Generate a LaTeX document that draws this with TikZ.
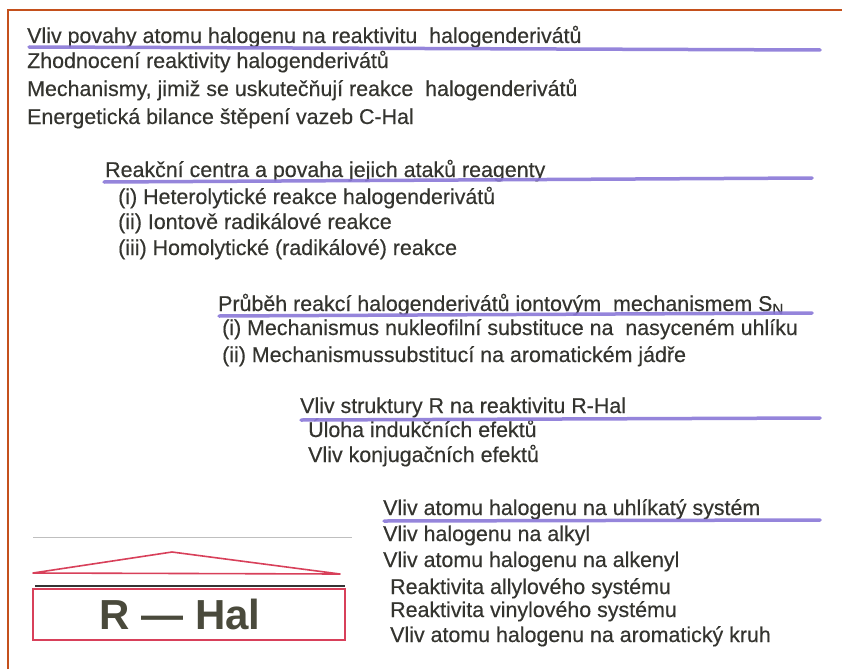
\documentclass[tikz,border=0pt]{standalone}
\usepackage{fontspec}
\setmainfont{Liberation Sans}
\newfontfamily\scanfont[FakeBold=0.35]{Liberation Sans}
\definecolor{txt}{HTML}{34342F}
\definecolor{ul}{HTML}{8A78D8}
\definecolor{frame}{HTML}{C4501C}
\definecolor{rhred}{HTML}{D8405A}
\definecolor{rhtxt}{HTML}{4A4A3C}
\begin{document}
\begin{tikzpicture}[x=1pt,y=-1pt,
  t/.style={anchor=base west,inner sep=0pt,text=txt,font=\scanfont\fontsize{21.4}{24}\selectfont},
  uline/.style={draw=ul,line width=3.5pt,line cap=round,opacity=0.9}]
\useasboundingbox (0,0) rectangle (842,669);
\fill[white] (0,0) rectangle (842,669);
\draw[frame,line width=1.6pt] (8,669) -- (8,10) -- (842,10);
% section 1
\node[t] (a1) at (27,43) {Vliv povahy atomu halogenu na reaktivitu\ \ halogenderivátů};
\node[t] (a2) at (27,68) {Zhodnocení reaktivity halogenderivátů};
\node[t] (a3) at (27,96) {Mechanismy, jimiž se uskutečňují reakce\ \ halogenderivátů};
\node[t] (a4) at (27,124) {Energetická bilance štěpení vazeb C-Hal};
\coordinate (u1a) at (29,47); \coordinate (u1b) at (820,50);
\draw[uline] (u1a) -- (u1b);
% section 2
\node[t] (b1) at (105,177) {Reakční centra a povaha jejich ataků reagenty};
\node[t] (b2) at (118,204) {(i) Heterolytické reakce halogenderivátů};
\node[t] (b3) at (118,229) {(ii) Iontově radikálové reakce};
\node[t] (b4) at (118,255) {(iii) Homolytické (radikálové) reakce};
\coordinate (u2a) at (104,182); \coordinate (u2b) at (812,178);
\draw[uline] (u2a) -- (u2b);
% section 3
\node[t] (c1) at (218,311) {Průběh reakcí halogenderivátů iontovým\ \ mechanismem S\textsubscript{N}};
\node[t] (c2) at (222,335) {(i) Mechanismus nukleofilní substituce na\ \ nasyceném uhlíku};
\node[t] (c3) at (222,362) {(ii) Mechanismussubstitucí na aromatickém jádře};
\coordinate (u3a) at (219,316); \coordinate (u3b) at (812,313);
\draw[uline] (u3a) -- (u3b);
% section 4
\node[t] (d1) at (300,413) {Vliv struktury R na reaktivitu R-Hal};
\node[t] (d2) at (308,437) {Úloha indukčních efektů};
\node[t] (d3) at (308,462) {Vliv konjugačních efektů};
\coordinate (u4a) at (301,420); \coordinate (u4b) at (820,418);
\draw[uline] (u4a) -- (u4b);
% section 5
\node[t] (e1) at (383,515) {Vliv atomu halogenu na uhlíkatý systém};
\node[t] (e2) at (383,541) {Vliv halogenu na alkyl};
\node[t] (e3) at (383,567) {Vliv atomu halogenu na alkenyl};
\node[t] (e4) at (390,594) {Reaktivita allylového systému};
\node[t] (e5) at (390,617) {Reaktivita vinylového systému};
\node[t] (e6) at (390,642) {Vliv atomu halogenu na aromatický kruh};
\coordinate (u5a) at (384,521); \coordinate (u5b) at (820,520);
\draw[uline] (u5a) -- (u5b);
% R-Hal emblem
\coordinate (g1) at (33,537); \coordinate (g2) at (352,537);
\draw[black!25,line width=0.8pt] (g1) -- (g2);
\coordinate (r1) at (33,573); \coordinate (r2) at (172,552); \coordinate (r3) at (340,574);
\draw[rhred,line width=1.6pt,line join=round] (r1) -- (r2) -- (r3) -- cycle;
\coordinate (k1) at (35,586); \coordinate (k2) at (345,586);
\draw[black!80,line width=1.6pt] (k1) -- (k2);
\node[draw=rhred,line width=1.6pt,minimum width=312pt,minimum height=51pt,inner sep=0pt] (box) at (189,614.5) {};
\node[inner sep=0pt,text=rhtxt,font=\fontsize{42}{44}\selectfont\bfseries] (rh) at (180,614) {R --- Hal};
\end{tikzpicture}
\end{document}
